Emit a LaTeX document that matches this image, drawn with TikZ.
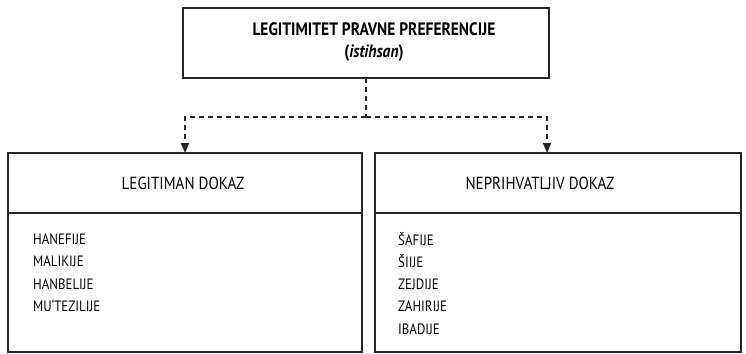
\documentclass[tikz,border=0pt]{standalone}
\usepackage{fontspec}
\setmainfont{PT Sans}[FakeStretch=0.86]
\usetikzlibrary{arrows.meta}
\begin{document}
\begin{tikzpicture}[x=1pt,y=-1pt,
  box/.style={draw=black!85, line width=1.4pt},
  conn/.style={draw=black!85, line width=1.3pt, dash pattern=on 5pt off 4pt},
  arr/.style={-{Triangle[length=10pt,width=8pt]}},
  title/.style={font=\fontsize{17.5}{20}\selectfont, inner sep=0pt},
  item/.style={font=\fontsize{15}{17}\selectfont, anchor=west, inner sep=0pt}]
\useasboundingbox (0,0) rectangle (746,353);
% top box
\draw[box] (183,8) rectangle (549,78);
\node[inner sep=0pt, align=center, font=\fontsize{18}{22}\selectfont\bfseries] (top) at (374,42)
  {LEGITIMITET PRAVNE PREFERENCIJE\\(\textit{istihsan})};
\coordinate (tb) at (366,78);
\coordinate (mid) at (366,117);
% left box
\draw[box] (8,153) rectangle (362,352);
\draw[box] (8,213) -- (362,213);
\node[title] (lt) at (183,183) {LEGITIMAN DOKAZ};
\coordinate (la) at (185,153);
% right box
\draw[box] (375,153) rectangle (741,352);
\draw[box] (375,213) -- (741,213);
\node[title] (rt) at (540,183) {NEPRIHVATLJIV DOKAZ};
\coordinate (ra) at (547,153);
% connectors
\draw[conn] (tb) -- (mid);
\draw[conn, arr] (mid) -| (la);
\draw[conn, arr] (mid) -| (ra);
% items
\node[item] (l1) at (33,239) {HANEFIJE};
\node[item] (l2) at (33,261) {MALIKIJE};
\node[item] (l3) at (33,284) {HANBELIJE};
\node[item] (l4) at (33,306) {MU‘TEZILIJE};
\node[item] (r1) at (398,239) {ŠAFIJE};
\node[item] (r2) at (398,261) {ŠIIJE};
\node[item] (r3) at (398,284) {ZEJDIJE};
\node[item] (r4) at (398,306) {ZAHIRIJE};
\node[item] (r5) at (398,329) {IBADIJE};
\end{tikzpicture}
\end{document}
